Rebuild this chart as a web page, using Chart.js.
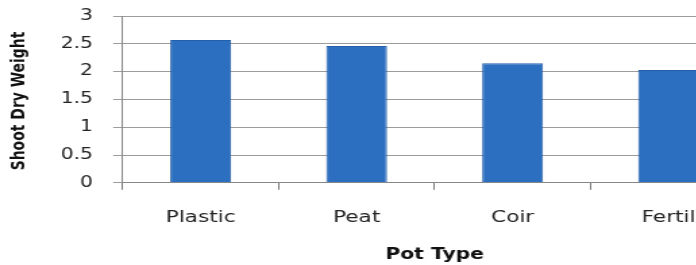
<!DOCTYPE html>
<html>
<head>
<meta charset="utf-8">
<script src="https://cdn.jsdelivr.net/npm/chart.js@4/dist/chart.umd.min.js"></script>
<style>
  html, body { margin: 0; padding: 0; background: #fff; overflow: hidden; width: 696px; height: 265px; }
  /* the photographed print is stretched sideways, so stretch the canvas the same way */
  #wrap { width: 553px; height: 265px; transform: scaleX(1.35); transform-origin: 0 0; }
</style>
</head>
<body>
<div id="wrap"><canvas id="potChart" width="553" height="265"></canvas></div>
<script>
const potTypes = ['Plastic', 'Peat', 'Coir', 'Fertil'];
const shootDryWeight = [2.57, 2.46, 2.15, 2.03];
const yTicks = [0, 0.5, 1, 1.5, 2, 2.5, 3];
const yTitle = 'Shoot Dry Weight';
const xTitle = 'Pot Type';

const whiteBg = {
  id: 'white_bg',
  beforeDraw: (chart) => {
    const {ctx} = chart;
    ctx.save();
    ctx.fillStyle = '#fff';
    ctx.fillRect(0, 0, chart.width, chart.height);
    ctx.restore();
  }
};

// y title drawn by hand so it stays narrow after the sideways stretch
const sideTitle = {
  id: 'side_title',
  afterDraw: (chart) => {
    const {ctx} = chart;
    ctx.save();
    ctx.translate(15, 101);
    ctx.rotate(-Math.PI / 2);
    ctx.scale(1, 0.85);
    ctx.font = "bold 15.5px 'DejaVu Sans Condensed', 'DejaVu Sans', sans-serif";
    ctx.fillStyle = '#111';
    ctx.textAlign = 'center';
    ctx.textBaseline = 'middle';
    ctx.fillText(yTitle, 0, 0);
    ctx.restore();
  }
};

Chart.defaults.font.family = "'DejaVu Sans', sans-serif";

const config = {
  type: 'bar',
  data: {
    labels: potTypes,
    datasets: [{
      label: yTitle,
      data: shootDryWeight,
      backgroundColor: '#2c6fc0',
      borderColor: '#2460aa',
      borderWidth: 1,
      categoryPercentage: 1,
      barPercentage: 0.39
    }]
  },
  options: {
    responsive: false,
    animation: false,
    devicePixelRatio: 1,
    layout: { padding: { top: 16, left: 30, right: 0, bottom: 1 } },
    plugins: { legend: { display: false }, tooltip: { enabled: false } },
    scales: {
      x: {
        grid: { offset: true, drawOnChartArea: false, color: '#777', tickLength: 7 },
        border: { color: '#888' },
        ticks: { color: '#222', padding: 18, font: { size: 16 } },
        title: {
          display: true, text: xTitle, color: '#111',
          padding: { top: 1, bottom: 0 },
          font: { size: 15, weight: 'bold' }
        }
      },
      y: {
        min: 0, max: 3,
        afterBuildTicks: (scale) => { scale.ticks = yTicks.map(v => ({value: v})); },
        afterFit: (scale) => { scale.paddingTop = 0; },
        grid: { color: '#9c9c9c', tickLength: 7 },
        border: { color: '#888' },
        ticks: { color: '#222', padding: 15, font: { size: 15 }, callback: (v) => String(v) }
      }
    }
  },
  plugins: [whiteBg, sideTitle]
};

const myChart = new Chart(document.getElementById('potChart'), config);
</script>
</body>
</html>
